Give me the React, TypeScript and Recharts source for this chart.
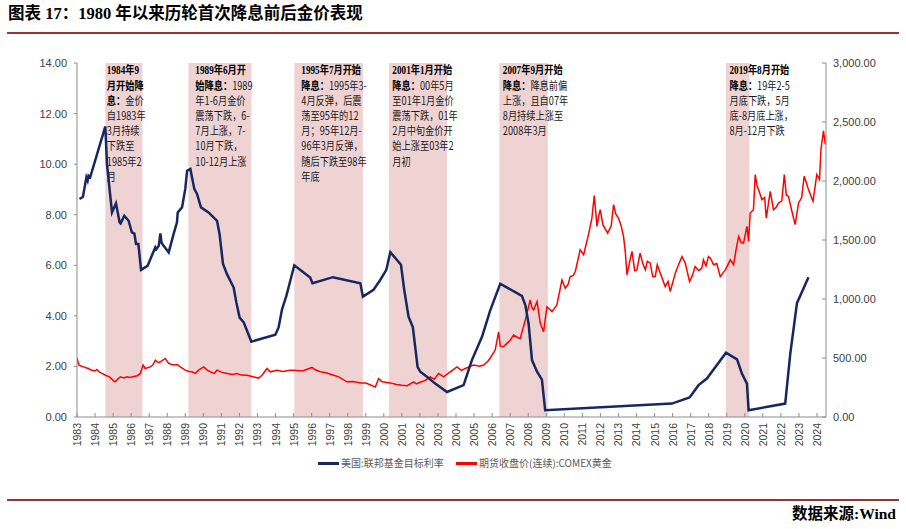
import React from 'react'
import { LineChart, Line, XAxis, YAxis, ReferenceArea } from 'recharts'

// US fed funds target rate (left axis, %), sparse change points
const fedYears = [
  1983.14, 1983.33, 1983.52, 1983.59, 1983.64, 1983.73, 1984.57, 1984.66, 1984.94, 1985.16,
  1985.36, 1985.42, 1985.62, 1985.86, 1986.04, 1986.18, 1986.27, 1986.4, 1986.55, 1986.91,
  1987.34, 1987.4, 1987.53, 1987.62, 1987.68, 1987.8, 1988.08, 1988.35, 1988.54, 1988.58,
  1988.82, 1989.0, 1989.1, 1989.28, 1989.5, 1989.65, 1989.87, 1990.29, 1990.76, 1990.9,
  1991.09, 1991.31, 1991.68, 1991.83, 1992.01, 1992.24, 1992.66, 1993.99, 1994.17, 1994.36,
  1994.6, 1995.04, 1995.92, 1996.05, 1997.18, 1998.7, 1998.84, 1999.43, 1999.8, 2000.14,
  2000.36, 2000.95, 2001.13, 2001.37, 2001.61, 2001.87, 2002.02, 2002.39, 2002.85, 2003.5,
  2004.42, 2004.88, 2005.44, 2005.9, 2006.45, 2007.65, 2007.84, 2008.02, 2008.21, 2008.49,
  2008.76, 2008.94, 2015.96, 2016.94, 2017.44, 2017.9, 2018.96, 2019.57, 2019.84, 2020.12,
  2020.21, 2022.24, 2022.52, 2022.89, 2023.53,
]
const fedRates = [
  8.62, 8.71, 9.48, 9.35, 9.54, 9.48, 11.49, 10.0, 8.09, 8.45,
  7.7, 7.66, 7.96, 7.76, 7.3, 7.25, 6.84, 6.84, 5.82, 5.98,
  6.71, 6.64, 6.77, 7.26, 6.9, 6.77, 6.51, 7.23, 7.7, 8.09,
  8.29, 9.02, 9.74, 9.81, 9.02, 8.82, 8.29, 8.09, 7.76, 7.23,
  6.05, 5.65, 5.12, 4.53, 3.93, 3.74, 2.98, 3.25, 3.54, 4.26,
  4.79, 6.0, 5.52, 5.29, 5.53, 5.29, 4.76, 5.03, 5.42, 5.82,
  6.52, 6.02, 5.03, 3.97, 3.55, 1.98, 1.79, 1.59, 1.32, 0.99,
  1.26, 2.25, 3.17, 4.23, 5.27, 4.79, 4.43, 3.7, 2.25, 1.79,
  1.48, 0.27, 0.53, 0.77, 1.26, 1.52, 2.54, 2.28, 1.72, 1.32,
  0.27, 0.53, 2.5, 4.5, 5.53,
]

// COMEX gold continuous futures close (right axis, USD/oz)
const goldYears = [
  1983.0, 1983.05, 1983.1, 1983.25, 1983.37, 1983.5, 1983.64, 1983.75, 1983.83, 1984.0,
  1984.1, 1984.25, 1984.38, 1984.57, 1984.8, 1985.03, 1985.12, 1985.25, 1985.4, 1985.6,
  1985.77, 1985.95, 1986.14, 1986.35, 1986.51, 1986.66, 1986.78, 1987.06, 1987.2, 1987.34,
  1987.5, 1987.62, 1987.89, 1988.08, 1988.35, 1988.55, 1988.72, 1989.0, 1989.2, 1989.37,
  1989.55, 1989.74, 1990.02, 1990.2, 1990.39, 1990.6, 1990.76, 1991.0, 1991.31, 1991.6,
  1991.86, 1992.1, 1992.42, 1992.7, 1993.06, 1993.25, 1993.53, 1993.71, 1994.08, 1994.4,
  1994.82, 1995.0, 1995.5, 1996.02, 1996.2, 1996.48, 1996.8, 1997.22, 1997.5, 1997.96,
  1998.3, 1998.7, 1999.0, 1999.53, 1999.71, 1999.9, 2000.36, 2000.7, 2001.0, 2001.3,
  2001.65, 2001.8, 2002.02, 2002.3, 2002.57, 2002.8, 2003.03, 2003.31, 2003.68, 2004.05,
  2004.3, 2004.51, 2004.97, 2005.3, 2005.53, 2005.75, 2005.9, 2006.17, 2006.36, 2006.45,
  2006.63, 2006.82, 2007.0, 2007.19, 2007.46, 2007.56, 2007.84, 2008.11, 2008.2, 2008.3,
  2008.49, 2008.67, 2008.85, 2009.04, 2009.15, 2009.32, 2009.59, 2009.87, 2010.05, 2010.2,
  2010.33, 2010.5, 2010.61, 2010.88, 2011.07, 2011.34, 2011.53, 2011.66, 2011.74, 2011.81,
  2011.9, 2011.99, 2012.14, 2012.4, 2012.6, 2012.73, 2012.85, 2013.0, 2013.15, 2013.28,
  2013.38, 2013.47, 2013.6, 2013.75, 2013.9, 2014.02, 2014.2, 2014.35, 2014.49, 2014.6,
  2014.76, 2014.9, 2015.04, 2015.15, 2015.32, 2015.59, 2015.75, 2015.87, 2016.15, 2016.3,
  2016.52, 2016.7, 2016.94, 2017.1, 2017.25, 2017.45, 2017.62, 2017.71, 2017.85, 2017.99,
  2018.1, 2018.27, 2018.45, 2018.64, 2018.92, 2019.2, 2019.38, 2019.52, 2019.66, 2019.8,
  2019.93, 2020.12, 2020.21, 2020.3, 2020.48, 2020.58, 2020.68, 2020.76, 2020.95, 2021.1,
  2021.19, 2021.41, 2021.59, 2021.75, 2021.87, 2022.05, 2022.19, 2022.3, 2022.42, 2022.6,
  2022.79, 2022.98, 2023.15, 2023.29, 2023.4, 2023.53, 2023.78, 2023.99, 2024.14, 2024.22,
  2024.36, 2024.46,
]
const goldPrices = [
  500, 470, 440, 430, 425, 418, 411, 400, 397, 390,
  403, 380, 369, 354, 340, 306, 298, 320, 340, 330,
  340, 335, 343, 350, 369, 440, 411, 425, 440, 482,
  460, 468, 496, 454, 440, 445, 425, 397, 385, 383,
  370, 397, 425, 400, 383, 370, 397, 380, 369, 360,
  369, 355, 354, 343, 330, 354, 411, 383, 397, 385,
  397, 397, 390, 420, 400, 383, 375, 354, 340, 298,
  300, 289, 288, 255, 326, 298, 289, 275, 269, 265,
  298, 280, 295, 310, 340, 320, 369, 340, 383, 425,
  395, 411, 440, 430, 440, 470, 500, 567, 722, 600,
  595, 624, 650, 694, 670, 666, 822, 992, 930, 907,
  978, 794, 722, 935, 920, 893, 949, 1162, 1091, 1120,
  1190, 1200, 1233, 1417, 1375, 1545, 1686, 1876, 1740, 1615,
  1700, 1757, 1630, 1559, 1620, 1800, 1720, 1686, 1620, 1530,
  1400, 1205, 1300, 1403, 1240, 1247, 1389, 1300, 1247, 1320,
  1304, 1190, 1190, 1290, 1219, 1105, 1150, 1063, 1219, 1280,
  1360, 1304, 1148, 1200, 1275, 1240, 1261, 1332, 1280, 1360,
  1346, 1290, 1300, 1190, 1247, 1332, 1290, 1420, 1530, 1480,
  1474, 1615, 1488, 1729, 1757, 2055, 1960, 1927, 1842, 1860,
  1686, 1913, 1757, 1780, 1814, 1830, 2055, 1880, 1870, 1750,
  1630, 1814, 1860, 2040, 1990, 1927, 1828, 2055, 2012, 2267,
  2424, 2310,
]

// first rate-cut windows
const bandStart = [1984.57, 1989.17, 1995.04, 2000.28, 2006.4, 2018.96]
const bandEnd = [1986.63, 1992.66, 1998.84, 2003.5, 2009.09, 2020.26]

// annotation text per window: [bold lead, plain rest] per line
const notes: [string, string][][] = [
  [['1984年9', ''], ['月开始降', ''], ['息：', '金价'], ['', '自1983年'], ['', '3月持续'], ['', '下跌至'], ['', '1985年2'], ['', '月']],
  [['1989年6月开', ''], ['始降息：', '1989'], ['', '年1-6月金价'], ['', '震荡下跌，6-'], ['', '7月上涨，7-'], ['', '10月下跌，'], ['', '10-12月上涨']],
  [['1995年7月开始', ''], ['降息：', '1995年3-'], ['', '4月反弹，后震'], ['', '荡至95年的12'], ['', '月；95年12月-'], ['', '96年3月反弹，'], ['', '随后下跌至98年'], ['', '年底']],
  [['2001年1月开始', ''], ['降息：', '00年5月'], ['', '至01年1月金价'], ['', '震荡下跌，01年'], ['', '2月中旬金价开'], ['', '始上涨至03年2'], ['', '月初']],
  [['2007年9月开始', ''], ['降息：', '降息前偏'], ['', '上涨，且自07年'], ['', '8月持续上涨至'], ['', '2008年3月']],
  [['2019年8月开始', ''], ['降息：', '19年2-5'], ['', '月底下跌，5月'], ['', '底-8月底上涨，'], ['', '8月-12月下跌']],
]
const noteShift = [1.5, 7, 7, 3.5, 3.5, 3.5]

const yearTicks = Array.from({ length: 42 }, (_, i) => 1983 + i)
const rateTicks = [0, 2, 4, 6, 8, 10, 12, 14]
const goldTicks = [0, 500, 1000, 1500, 2000, 2500, 3000]

const fedData = fedYears.map((t, i) => ({ t, v: fedRates[i] }))
const goldData = goldYears.map((t, i) => ({ t, v: goldPrices[i] }))

const AXIS = '#8c8c8c'
const LABEL = '#404040'
const NUM_FONT = "'Liberation Sans Narrow', 'Liberation Sans', sans-serif"
const CJK = "'Noto Sans CJK SC', sans-serif"
const BOLD_FONT = "'Liberation Serif', 'Noto Sans CJK SC', serif"

const LeftTick = ({ x, y, payload }: any) => (
  <g>
    <line x1={x - 3} x2={x} y1={y} y2={y} stroke={AXIS} />
    <text x={x - 10} y={y} dy={4} textAnchor="end" fontSize={11} fontFamily={NUM_FONT} fill={LABEL}>
      {payload.value.toFixed(2)}
    </text>
  </g>
)

const RightTick = ({ x, y, payload }: any) => (
  <g>
    <line x1={x - 4} x2={x} y1={y} y2={y} stroke={AXIS} />
    <text x={x + 7} y={y} dy={4} textAnchor="start" fontSize={11} fontFamily={NUM_FONT} fill={LABEL}>
      {payload.value.toLocaleString('en-US', { minimumFractionDigits: 2, maximumFractionDigits: 2 })}
    </text>
  </g>
)

const YearTick = ({ x, y, payload }: any) => (
  <g>
    <line x1={x} x2={x} y1={y - 4} y2={y} stroke={AXIS} />
    <text
      x={x}
      y={y + 6}
      transform={`rotate(-90, ${x}, ${y + 6})`}
      textAnchor="end"
      dominantBaseline="central"
      fontSize={10.5}
      fontFamily="'Liberation Sans', sans-serif"
      fill={LABEL}
    >
      {payload.value}
    </text>
  </g>
)

function Note({ vb, idx }: { vb: any; idx: number }) {
  if (!vb) return null
  const x0 = vb.x + noteShift[idx]
  return (
    <g transform={`translate(${x0}, ${vb.y}) scale(0.8, 1)`}>
      {notes[idx].map(([b, t], i) => (
        <text key={i} x={0} y={11.5 + i * 15.2} fontSize={11.5} fontFamily={CJK} fill="#1a1a1a">
          {b && <tspan fontWeight="bold" fontFamily={BOLD_FONT} fill="#000">{b}</tspan>}
          {t && <tspan>{t}</tspan>}
        </text>
      ))}
    </g>
  )
}

export default function App() {
  return (
    <div style={{ position: 'relative', width: 906, height: 529, background: '#fff', overflow: 'hidden' }}>
      <style>{'body{margin:0}'}</style>
      <div
        style={{
          position: 'absolute', left: 8, top: 3, fontSize: 16.5, lineHeight: '22px', fontWeight: 'bold',
          fontFamily: BOLD_FONT, color: '#000', whiteSpace: 'nowrap',
        }}
      >
        图表 17：1980 年以来历轮首次降息前后金价表现
      </div>
      <div style={{ position: 'absolute', left: 7, top: 32, width: 892, height: 2, background: '#943634' }} />

      <div style={{ position: 'absolute', left: 0, top: 0 }}>
        <LineChart width={906} height={529} margin={{ top: 63, right: 0, bottom: 72, left: 0 }}>
          <XAxis
            dataKey="t"
            type="number"
            domain={[1983, 2024.5]}
            ticks={yearTicks}
            interval={0}
            allowDataOverflow
            stroke={AXIS}
            tickLine={false}
            tickSize={0}
            tickMargin={0}
            height={40}
            tick={<YearTick />}
          />
          <YAxis
            yAxisId="l"
            orientation="left"
            domain={[0, 14]}
            ticks={rateTicks}
            interval={0}
            width={77}
            stroke={AXIS}
            tickLine={false}
            tickSize={0}
            tickMargin={0}
            tick={<LeftTick />}
          />
          <YAxis
            yAxisId="r"
            orientation="right"
            domain={[0, 3000]}
            ticks={goldTicks}
            interval={0}
            width={80}
            stroke={AXIS}
            tickLine={false}
            tickSize={0}
            tickMargin={0}
            tick={<RightTick />}
          />
          {bandStart.map((s, i) => (
            <ReferenceArea
              key={s}
              yAxisId="l"
              x1={s}
              x2={bandEnd[i]}
              fill="#efd3d3"
              fillOpacity={1}
              stroke="none"
              label={(lp: any) => <Note vb={lp.viewBox} idx={i} />}
            />
          ))}
          <Line
            yAxisId="r"
            data={goldData}
            dataKey="v"
            type="linear"
            stroke="#ff0000"
            strokeWidth={1.5}
            dot={false}
            isAnimationActive={false}
          />
          <Line
            yAxisId="l"
            data={fedData}
            dataKey="v"
            type="linear"
            stroke="#16285e"
            strokeWidth={2.5}
            dot={false}
            isAnimationActive={false}
          />
        </LineChart>
      </div>

      {/* legend */}
      <div style={{ position: 'absolute', left: 318, top: 462, width: 21, height: 2.5, background: '#16285e' }} />
      <div style={{ position: 'absolute', left: 341, top: 455, fontSize: 10, lineHeight: '16px', fontFamily: CJK, color: '#595959', whiteSpace: 'nowrap' }}>
        美国:联邦基金目标利率
      </div>
      <div style={{ position: 'absolute', left: 456, top: 462, width: 21, height: 2.5, background: '#ff0000' }} />
      <div style={{ position: 'absolute', left: 479, top: 455, fontSize: 10, lineHeight: '16px', fontFamily: CJK, color: '#595959', whiteSpace: 'nowrap' }}>
        期货收盘价(连续):COMEX黄金
      </div>

      <div style={{ position: 'absolute', left: 7, top: 499, width: 892, height: 1.5, background: '#943634' }} />
      <div
        style={{
          position: 'absolute', right: 10, top: 504, fontSize: 15.5, lineHeight: '20px', fontWeight: 'bold',
          fontFamily: BOLD_FONT, color: '#000', whiteSpace: 'nowrap',
        }}
      >
        数据来源:Wind
      </div>
    </div>
  )
}
